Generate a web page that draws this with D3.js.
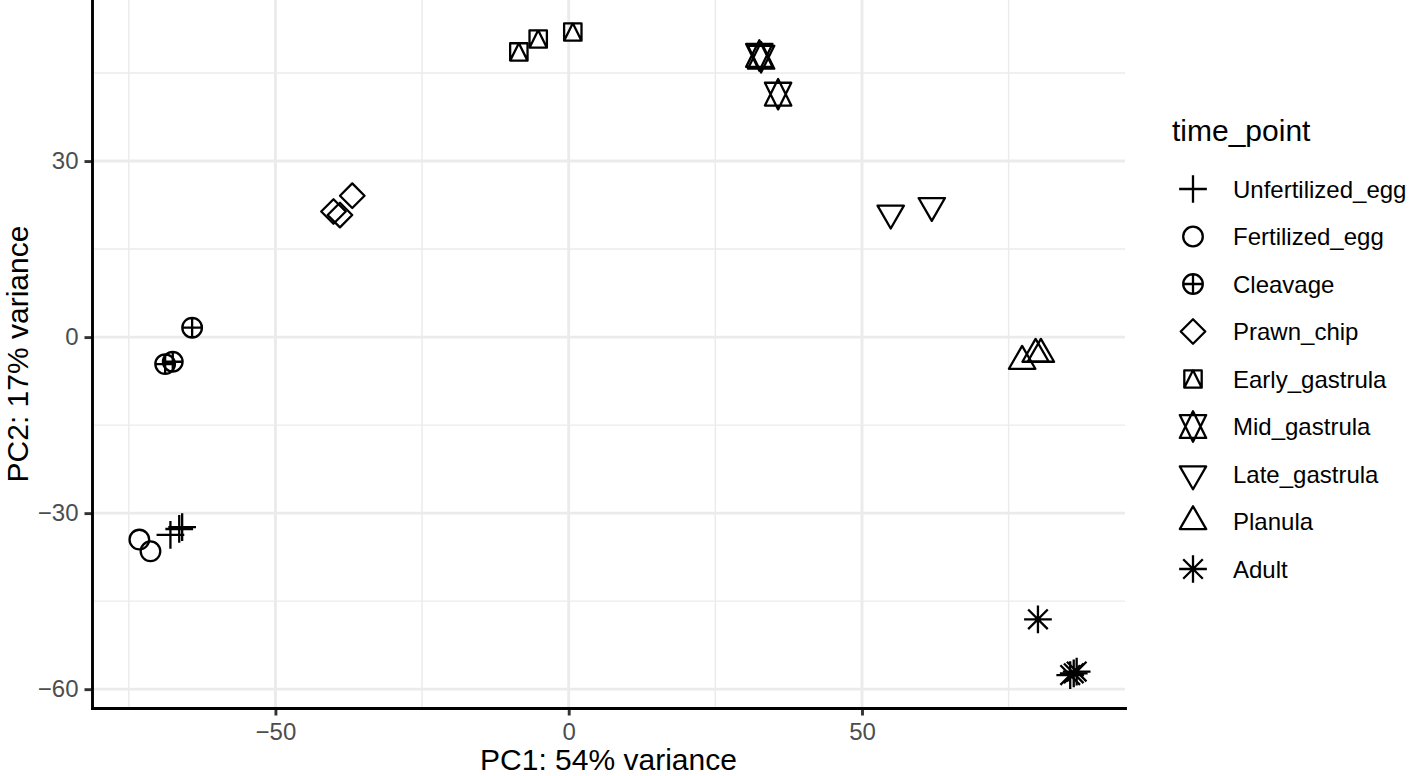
<!DOCTYPE html>
<html>
<head>
<meta charset="utf-8">
<script src="https://cdn.jsdelivr.net/npm/d3@7"></script>
<style>
  html, body { margin: 0; padding: 0; background: #ffffff; }
  svg { display: block; }
</style>
</head>
<body>
<script>
// ---------------- data ----------------
const timePoints = ["Unfertilized_egg", "Fertilized_egg", "Cleavage", "Prawn_chip",
  "Early_gastrula", "Mid_gastrula", "Late_gastrula", "Planula", "Adult"];
// ggplot shape codes for each time point
const shapeCodes = [3, 1, 10, 5, 14, 11, 6, 2, 8];

const sampleGroups = [
  "Unfertilized_egg", "Unfertilized_egg", "Unfertilized_egg",
  "Fertilized_egg", "Fertilized_egg",
  "Cleavage", "Cleavage", "Cleavage",
  "Prawn_chip", "Prawn_chip", "Prawn_chip",
  "Early_gastrula", "Early_gastrula", "Early_gastrula",
  "Mid_gastrula", "Mid_gastrula", "Mid_gastrula",
  "Late_gastrula", "Late_gastrula",
  "Planula", "Planula", "Planula",
  "Adult", "Adult", "Adult", "Adult"
];
const pc1 = [
  -67.9, -65.9, -66.4,
  -73.2, -71.3,
  -64.2, -68.8, -67.5,
  -36.9, -40.1, -39.0,
  -8.5, -5.2, 0.7,
  32.5, 32.8, 35.7,
  54.9, 61.9,
  77.3, 79.6, 80.5,
  80.0, 86.1, 85.5, 86.6
];
const pc2 = [
  -33.7, -32.4, -32.7,
  -34.5, -36.5,
  1.6, -4.6, -4.2,
  24.1, 21.4, 20.8,
  48.6, 50.8, 52.0,
  48.0, 47.7, 41.4,
  21.1, 22.4,
  -4.1, -2.9, -2.9,
  -48.1, -57.3, -57.6, -57.0
];

const xMajorTicks = [-50, 0, 50];
const xMinorTicks = [-75, -25, 25, 75];
const yMajorTicks = [-60, -30, 0, 30];
const yMinorTicks = [-45, -15, 15, 45];

const xTitle = "PC1: 54% variance";
const yTitle = "PC2: 17% variance";
const legendTitle = "time_point";

// ---------------- layout ----------------
const W = 1412, H = 776;
const panel = { left: 92, right: 1125, top: 0, bottom: 708 };
const FONT = "'Liberation Sans', Arial, Helvetica, sans-serif";

const x = d3.scaleLinear().domain([-81.27, 94.84]).range([panel.left, panel.right]);
const y = d3.scaleLinear().domain([-63.21, 57.45]).range([panel.bottom, panel.top]);

const svg = d3.select("body").append("svg")
  .attr("width", W).attr("height", H)
  .attr("viewBox", `0 0 ${W} ${H}`);

svg.append("rect").attr("width", W).attr("height", H).attr("fill", "#ffffff");

// ---------------- grid ----------------
const grid = svg.append("g");
grid.selectAll("line.xminor").data(xMinorTicks).join("line")
  .attr("x1", d => x(d)).attr("x2", d => x(d))
  .attr("y1", panel.top).attr("y2", panel.bottom)
  .attr("stroke", "#EBEBEB").attr("stroke-width", 1.45);
grid.selectAll("line.yminor").data(yMinorTicks).join("line")
  .attr("y1", d => y(d)).attr("y2", d => y(d))
  .attr("x1", panel.left).attr("x2", panel.right)
  .attr("stroke", "#EBEBEB").attr("stroke-width", 1.45);
grid.selectAll("line.xmajor").data(xMajorTicks).join("line")
  .attr("x1", d => x(d)).attr("x2", d => x(d))
  .attr("y1", panel.top).attr("y2", panel.bottom)
  .attr("stroke", "#EBEBEB").attr("stroke-width", 2.9);
grid.selectAll("line.ymajor").data(yMajorTicks).join("line")
  .attr("y1", d => y(d)).attr("y2", d => y(d))
  .attr("x1", panel.left).attr("x2", panel.right)
  .attr("stroke", "#EBEBEB").attr("stroke-width", 2.9);

// ---------------- shapes ----------------
const R = 9.8;
const STROKE = 2.3;
function shapePath(code) {
  const f = v => v.toFixed(2);
  switch (code) {
    case 3: { const c = Math.SQRT2 * R;
      return `M${f(-c)},0H${f(c)}M0,${f(-c)}V${f(c)}`; }
    case 1:
      return `M${f(R)},0A${f(R)},${f(R)} 0 1,1 ${f(-R)},0A${f(R)},${f(R)} 0 1,1 ${f(R)},0Z`;
    case 10:
      return `M${f(R)},0A${f(R)},${f(R)} 0 1,1 ${f(-R)},0A${f(R)},${f(R)} 0 1,1 ${f(R)},0Z` +
             `M${f(-R)},0H${f(R)}M0,${f(-R)}V${f(R)}`;
    case 5: { const c = 1.25331414 * R;
      return `M0,${f(-c)}L${f(c)},0L0,${f(c)}L${f(-c)},0Z`; }
    case 14: { const c = 0.88622692 * R;
      return `M${f(-c)},${f(-c)}H${f(c)}V${f(c)}H${f(-c)}Z` +
             `M0,${f(-c)}L${f(c)},${f(c)}L${f(-c)},${f(c)}Z`; }
    case 11: { const r = 1.55512030 * R;
      const yc = 0.5 * (0.77756015 + 1.55512030) * R;
      const xc = 1.34677368 * R;
      return `M0,${f(r)}L${f(xc)},${f(-yc)}L${f(-xc)},${f(-yc)}Z` +
             `M0,${f(-r)}L${f(xc)},${f(yc)}L${f(-xc)},${f(yc)}Z`; }
    case 6: { const r = 1.55512030 * R, yc = 0.77756015 * R, xc = 1.34677368 * R;
      return `M0,${f(r)}L${f(xc)},${f(-yc)}L${f(-xc)},${f(-yc)}Z`; }
    case 2: { const r = 1.55512030 * R, yc = 0.77756015 * R, xc = 1.34677368 * R;
      return `M0,${f(-r)}L${f(xc)},${f(yc)}L${f(-xc)},${f(yc)}Z`; }
    case 8: { const c = R, p = Math.SQRT2 * R;
      return `M${f(-c)},${f(-c)}L${f(c)},${f(c)}M${f(-c)},${f(c)}L${f(c)},${f(-c)}` +
             `M${f(-p)},0H${f(p)}M0,${f(-p)}V${f(p)}`; }
  }
  return "";
}
const shapeOf = g => shapeCodes[timePoints.indexOf(g)];

// ---------------- points ----------------
const points = sampleGroups.map((g, i) => ({ g, x: pc1[i], y: pc2[i] }));
svg.append("g").selectAll("path").data(points).join("path")
  .attr("transform", d => `translate(${x(d.x)},${y(d.y)})`)
  .attr("d", d => shapePath(shapeOf(d.g)))
  .attr("fill", "none")
  .attr("stroke", "#000000")
  .attr("stroke-width", STROKE)
  .attr("stroke-linejoin", "round");

// ---------------- axes ----------------
const fmt = d3.format("d");
const xAxis = svg.append("g")
  .attr("transform", `translate(0,${panel.bottom})`)
  .call(d3.axisBottom(x).tickValues(xMajorTicks).tickFormat(fmt)
    .tickSize(7.5).tickSizeOuter(0).tickPadding(7));
const yAxis = svg.append("g")
  .attr("transform", `translate(${panel.left},0)`)
  .call(d3.axisLeft(y).tickValues(yMajorTicks).tickFormat(fmt)
    .tickSize(7.5).tickSizeOuter(0).tickPadding(6));

[xAxis, yAxis].forEach(a => {
  a.select(".domain").attr("stroke", "#000000").attr("stroke-width", 2.9)
    .attr("stroke-linecap", "square");
  a.selectAll(".tick line").attr("stroke", "#333333").attr("stroke-width", 2.9);
  a.selectAll(".tick text").attr("fill", "#4D4D4D")
    .attr("font-family", FONT).attr("font-size", 24);
});
xAxis.select(".domain").raise();
yAxis.select(".domain").raise();

// ---------------- axis titles ----------------
svg.append("text")
  .attr("x", (panel.left + panel.right) / 2).attr("y", 770)
  .attr("text-anchor", "middle")
  .attr("font-family", FONT).attr("font-size", 30).attr("fill", "#000000")
  .text(xTitle);
svg.append("text")
  .attr("transform", `translate(28,${(panel.top + panel.bottom) / 2}) rotate(-90)`)
  .attr("text-anchor", "middle")
  .attr("font-family", FONT).attr("font-size", 30).attr("fill", "#000000")
  .text(yTitle);

// ---------------- legend ----------------
const legend = svg.append("g");
legend.append("text")
  .attr("x", 1172).attr("y", 141)
  .attr("font-family", FONT).attr("font-size", 30).attr("fill", "#000000")
  .text(legendTitle);
const rowY = d3.scalePoint().domain(timePoints).range([189, 569]);
const rows = legend.selectAll("g.row").data(timePoints).join("g")
  .attr("transform", d => `translate(0,${rowY(d)})`);
rows.append("path")
  .attr("transform", "translate(1193,0)")
  .attr("d", d => shapePath(shapeOf(d)))
  .attr("fill", "none").attr("stroke", "#000000")
  .attr("stroke-width", STROKE).attr("stroke-linejoin", "round");
rows.append("text")
  .attr("x", 1233).attr("y", 8.5)
  .attr("font-family", FONT).attr("font-size", 24).attr("fill", "#000000")
  .text(d => d);
</script>
</body>
</html>
